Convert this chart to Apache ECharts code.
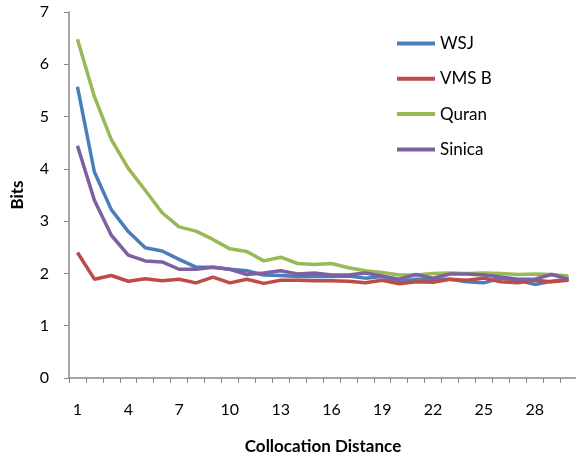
<!DOCTYPE html>
<html lang="en">

<head>
    <meta charset="UTF-8">
    <title>Collocation Distance</title>
    <script src="https://cdnjs.cloudflare.com/ajax/libs/echarts/6.0.0/echarts.min.js"></script>
    <style>
        html, body { margin: 0; padding: 0; background: #fff; }
        #chart { width: 576px; height: 458px; }
    </style>
</head>

<body>
    <div id="chart"></div>
    <script>
        // collocation distance 1..30
        const distances = [];
        for (let d = 1; d <= 30; d++) distances.push(String(d));

        const wsj = [5.57, 3.94, 3.22, 2.80, 2.49, 2.43, 2.27, 2.12, 2.12, 2.08,
            2.05, 1.97, 1.96, 1.94, 1.94, 1.94, 1.95, 1.91, 1.94, 1.84,
            1.89, 1.89, 1.89, 1.84, 1.82, 1.91, 1.87, 1.79, 1.85, 1.89];
        const vmsB = [2.40, 1.89, 1.96, 1.85, 1.90, 1.86, 1.89, 1.82, 1.93, 1.82,
            1.89, 1.81, 1.87, 1.87, 1.86, 1.86, 1.85, 1.82, 1.87, 1.80,
            1.84, 1.83, 1.89, 1.87, 1.91, 1.84, 1.82, 1.87, 1.84, 1.87];
        const quran = [6.48, 5.38, 4.56, 4.01, 3.59, 3.16, 2.89, 2.81, 2.65, 2.47,
            2.42, 2.24, 2.31, 2.19, 2.17, 2.19, 2.11, 2.05, 2.02, 1.97,
            1.97, 2.00, 2.01, 2.00, 2.01, 2.00, 1.98, 1.99, 1.98, 1.95];
        const sinica = [4.44, 3.40, 2.73, 2.35, 2.24, 2.22, 2.08, 2.08, 2.12, 2.08,
            1.98, 2.01, 2.05, 1.99, 2.01, 1.97, 1.97, 2.01, 1.95, 1.89,
            1.98, 1.91, 1.99, 1.99, 1.97, 1.93, 1.89, 1.89, 1.98, 1.89];

        const names = ['WSJ', 'VMS B', 'Quran', 'Sinica'];
        const colors = ['#4A7EBB', '#BE4B48', '#98B954', '#7D60A0'];
        const values = [wsj, vmsB, quran, sinica];

        const font = 'Lato, "Open Sans", sans-serif';
        const axisGray = '#888888';

        let my_chart = echarts.init(document.getElementById('chart'), null, { renderer: 'canvas' });

        let options = {
            animation: false,
            backgroundColor: '#fff',
            grid: { left: 69, top: 12, width: 508, height: 366, outerBoundsMode: 'none', containLabel: false },
            legend: {
                orient: 'vertical',
                left: 392,
                top: 30,
                itemWidth: 38,
                itemHeight: 14,
                itemGap: 18.3,
                icon: 'path://M0,0 L38,0 L38,4 L0,4 Z',
                textStyle: { color: '#000', fontSize: 17, fontFamily: font },
                data: names
            },
            xAxis: {
                type: 'category',
                data: distances,
                boundaryGap: true,
                name: 'Collocation Distance',
                nameLocation: 'middle',
                nameGap: 60,
                nameTextStyle: { color: '#000', fontSize: 17, fontWeight: 'bold', fontFamily: font },
                axisLine: { lineStyle: { color: axisGray, width: 1.5 } },
                axisTick: { show: true, interval: 0, length: 5, lineStyle: { color: axisGray } },
                axisLabel: { interval: 2, margin: 24, color: '#000', fontSize: 16, fontFamily: font }
            },
            yAxis: {
                type: 'value',
                min: 0,
                max: 7,
                interval: 1,
                name: 'Bits',
                nameLocation: 'middle',
                nameRotate: 90,
                nameGap: 43,
                nameTextStyle: { color: '#000', fontSize: 17, fontWeight: 'bold', fontFamily: font },
                axisLine: { show: true, lineStyle: { color: axisGray, width: 1.5 } },
                axisTick: { show: true, length: 5, lineStyle: { color: axisGray } },
                splitLine: { show: false },
                axisLabel: { margin: 20, color: '#000', fontSize: 16, fontFamily: font }
            },
            series: names.map(function (n, i) {
                return {
                    name: n,
                    type: 'line',
                    data: values[i],
                    showSymbol: false,
                    symbol: 'none',
                    lineStyle: { color: colors[i], width: 3.5 },
                    itemStyle: { color: colors[i] }
                };
            })
        };
        my_chart.setOption(options);
    </script>
</body>

</html>
